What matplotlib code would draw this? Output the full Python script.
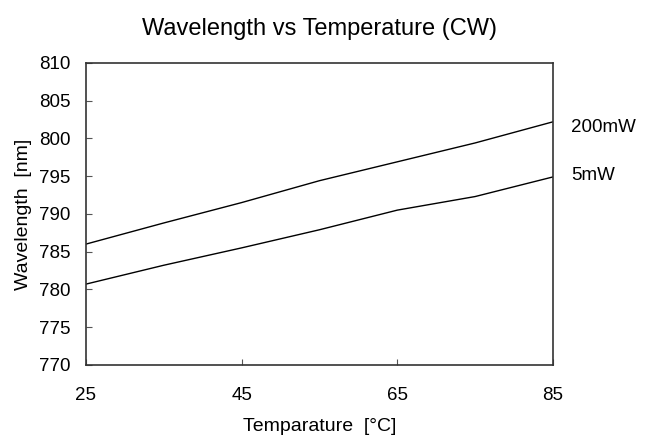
import matplotlib
matplotlib.use("Agg")
import matplotlib.pyplot as plt

# data
temperature = [25, 35, 45, 55, 65, 75, 85]
wl_200mw = [786.0, 788.8, 791.5, 794.4, 796.9, 799.4, 802.2]
wl_5mw = [780.7, 783.2, 785.5, 787.9, 790.5, 792.3, 794.9]
series_labels = ["200mW", "5mW"]
x_ticks = [25, 45, 65, 85]
y_ticks = [770, 775, 780, 785, 790, 795, 800, 805, 810]

plt.rcParams['font.family'] = ['Liberation Sans', 'DejaVu Sans']

fig = plt.figure(figsize=(6.46, 4.37), dpi=100)
ax = fig.add_axes([0.133, 0.165, 0.723, 0.691])

ax.plot(temperature, wl_200mw, color="black", lw=1.0)
ax.plot(temperature, wl_5mw, color="black", lw=1.0)

# labels to the right of the line ends
ax.annotate(series_labels[0], xy=(temperature[-1], wl_200mw[-1]), xytext=(13, -4),
            textcoords="offset points", va="center", ha="left", fontsize=13.5)
ax.annotate(series_labels[1], xy=(temperature[-1], wl_5mw[-1]), xytext=(13, 1),
            textcoords="offset points", va="center", ha="left", fontsize=13.5)

ax.set_xlim(25, 85)
ax.set_ylim(770, 810)
ax.set_xticks(x_ticks)
ax.set_yticks(y_ticks)
ax.tick_params(axis="y", direction="in", length=4, pad=11, labelsize=13.5, color="#555555")
ax.tick_params(axis="x", direction="in", length=4, pad=16, labelsize=13.5, color="#555555")
for s in ax.spines.values():
    s.set_color("#333333")
    s.set_linewidth(1.2)

ax.set_xlabel("Temparature  [°C]", fontsize=14, labelpad=10)
ax.set_ylabel("Wavelength  [nm]", fontsize=14, labelpad=5)
ax.set_title("Wavelength vs Temperature (CW)", fontsize=17, pad=20)

fig.savefig("out.png", dpi=100)
